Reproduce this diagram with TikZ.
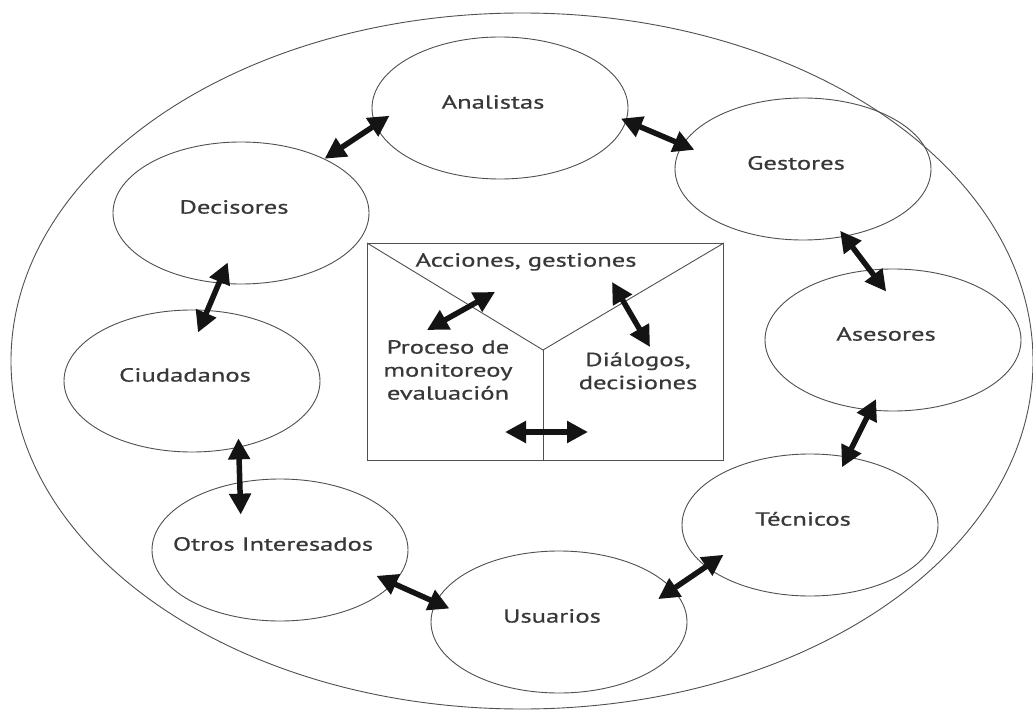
\documentclass[tikz,border=0pt]{standalone}
\usepackage{fontspec}
\setmainfont{PT Sans}
\newfontfamily\labelfont{PT Sans}[FakeBold=0.5]
\usetikzlibrary{shapes.geometric,arrows.meta,calc}
\definecolor{linegray}{HTML}{505050}
\definecolor{textgray}{HTML}{383838}
\newcommand{\widetext}[1]{\scalebox{1.40}[1]{\begin{tabular}{@{}c@{}}#1\end{tabular}}}
\begin{document}
\begin{tikzpicture}[x=1pt,y=-1pt,
  actor/.style={ellipse, draw=linegray, line width=0.9pt, minimum width=256pt, minimum height=142pt, inner sep=0pt,
    label={[text=textgray, font=\labelfont\fontsize{19}{23}\selectfont, inner sep=0pt, xshift=-7pt, yshift=4pt]center:\widetext{#1}}},
  txt/.style={text=textgray, font=\labelfont\fontsize{19}{23}\selectfont, inner sep=0pt},
  dbl/.style={draw=black!92, line width=5.5pt, {Triangle[length=21pt,width=21pt]}-{Triangle[length=21pt,width=21pt]}}
]
\useasboundingbox (0,0) rectangle (1033,711);
\fill[white] (0,0) rectangle (1033,711);
% outer ellipse
\draw[linegray, line width=0.9pt] (522,361) ellipse [x radius=511pt, y radius=348pt];
% actor ellipses
\node[actor=Analistas] (ana) at (500,108) {};
\node[actor=Gestores] (ges) at (803,169) {};
\node[actor=Decisores] (dec) at (241,213) {};
\node[actor=Asesores] (ase) at (893,340) {};
\node[actor=Ciudadanos] (ciu) at (192,381) {};
\node[actor=Técnicos] (tec) at (810,525) {};
\node[actor={Otros Interesados}] (otr) at (280,550) {};
\node[actor=Usuarios] (usu) at (559,622) {};
% connectors between actors
\draw[dbl] (dec.33) -- ($(ana.184)!17pt!(ana.center)$);
\draw[dbl] ($(ana.355)!6pt!(ana.center)$) -- ($(ges.170)!14pt!(ges.center)$);
\draw[dbl] ($(ges.301)!7pt!(ges.center)$) -- ($(ase.98)!23pt!(ase.center)$);
\draw[dbl] ($(ase.254)!12pt!(ase.center)$) -- ($(tec.61)!12pt!(tec.center)$);
\draw[dbl] ($(tec.199)!24pt!(tec.center)$) -- ($(usu.13)!20pt!(usu.center)$);
\draw[dbl] ($(usu.173)!16pt!(usu.center)$) -- ($(otr.345)!20pt!(otr.center)$);
\draw[dbl] ($(otr.138)!38pt!(otr.center)$) -- ($(ciu.309)!10pt!(ciu.center)$);
\draw[dbl] ($(ciu.83)!23pt!(ciu.center)$) -- ($(dec.255)!22pt!(dec.center)$);
% central box
\node[draw=linegray, line width=0.9pt, minimum width=356pt, minimum height=217pt, inner sep=0pt, anchor=north west] (box) at (367,243) {};
\coordinate (ymid) at (543,350);
\draw[linegray, line width=0.9pt] (box.north west) -- (ymid) -- (box.north east);
\draw[linegray, line width=0.9pt] (ymid) -- (ymid |- box.south);
\node[txt] (acc) at (526,262) {\widetext{Acciones, gestiones}};
\node[txt] (pro) at (448,372) {\widetext{Proceso de\\monitoreoy\\evaluación}};
\node[txt] (dia) at (638,373) {\widetext{Diálogos,\\decisiones}};
\coordinate (p1) at (427,330);
\coordinate (p2) at (495,292);
\coordinate (d1) at (612,282);
\coordinate (d2) at (650,347);
\coordinate (h1) at (505,432);
\coordinate (h2) at (588,432);
\draw[dbl] (p1) -- (p2);
\draw[dbl] (d1) -- (d2);
\draw[dbl] (h1) -- (h2);
\end{tikzpicture}
\end{document}
